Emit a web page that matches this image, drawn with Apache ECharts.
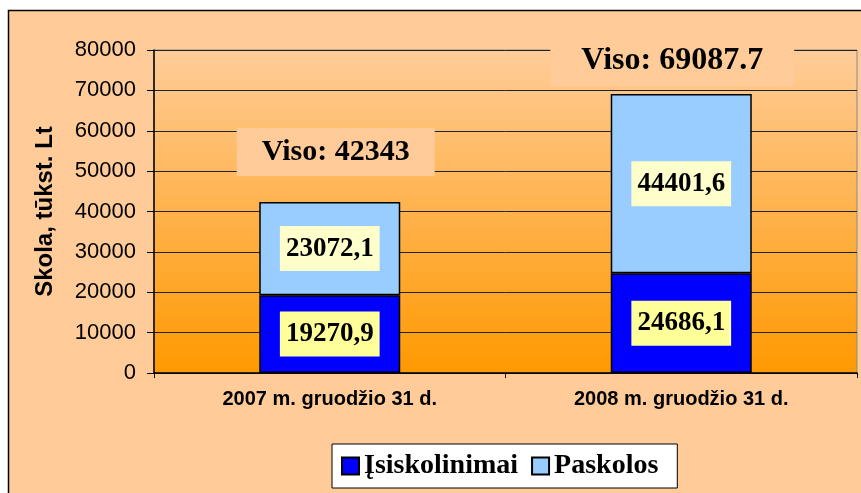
<!DOCTYPE html>
<html>
<head>
<meta charset="utf-8">
<script src="https://cdn.jsdelivr.net/npm/echarts@6/dist/echarts.min.js"></script>
<style>
  html, body { margin: 0; padding: 0; background: #ffffff; }
  #chart { width: 861px; height: 493px; }
</style>
</head>
<body>
<div id="chart"></div>
<script>
const categories = ['2007 m. gruodžio 31 d.', '2008 m. gruodžio 31 d.']
const isiskolinimai = [19270.9, 24686.1]
const paskolos = [23072.1, 44401.6]
const viso = [42343, 69087.7]
const yTicks = { min: 0, max: 80000, interval: 10000 }

const chart = echarts.init(document.getElementById('chart'), null, { renderer: 'canvas' })

const fmtComma = (v) => String(v).replace('.', ',')

const barLabel = (bg) => ({
  show: true,
  position: 'inside',
  formatter: (p) => fmtComma(p.value),
  fontFamily: 'Liberation Serif',
  fontWeight: 'bold',
  fontSize: 27,
  color: '#000',
  textBorderWidth: 0,
  backgroundColor: bg,
  padding: [10, 6, 8, 6]
})

const legendText = {
  fontFamily: 'Liberation Serif',
  fontWeight: 'bold',
  fontSize: 28,
  color: '#000'
}

// per-bar placement of the "Viso" boxes above the stacks
const visoOffsets = [[6, 0], [-9, 0]]
const visoDistances = [26, 8]
const visoSizes = [30, 32]
const visoPads = [[9, 25, 9, 25], [9, 31, 9, 31]]

const option = {
  backgroundColor: '#ffffff',
  animation: false,
  graphic: [{
    type: 'rect',
    z: -10,
    shape: { x: 8.5, y: 10.5, width: 900, height: 600 },
    style: { fill: '#FFCC99', stroke: '#000', lineWidth: 1.5 }
  }],
  grid: {
    left: 154,
    right: 4,
    top: 50,
    bottom: 120,
    show: true,
    borderColor: '#8a8a8a',
    borderWidth: 1,
    backgroundColor: new echarts.graphic.LinearGradient(0, 0, 0, 1, [
      { offset: 0, color: '#FFCC99' },
      { offset: 1, color: '#FF9900' }
    ])
  },
  legend: {
    data: [
      { name: 'Įsiskolinimai', textStyle: legendText },
      { name: 'Paskolos', textStyle: legendText }
    ],
    left: 332,
    top: 444,
    padding: [8, 19, 8, 9],
    backgroundColor: '#ffffff',
    borderColor: '#000',
    borderWidth: 1,
    itemWidth: 17,
    itemHeight: 17,
    itemGap: 13,
    icon: 'rect',
    textStyle: legendText
  },
  xAxis: {
    type: 'category',
    data: categories,
    axisLine: { lineStyle: { color: '#000', width: 1.5 } },
    axisTick: { show: true, length: 5, lineStyle: { color: '#000' } },
    axisLabel: {
      color: '#000',
      fontFamily: 'Liberation Sans',
      fontWeight: 'bold',
      fontSize: 20,
      margin: 16
    }
  },
  yAxis: {
    type: 'value',
    min: yTicks.min,
    max: yTicks.max,
    interval: yTicks.interval,
    name: 'Skola, tūkst. Lt',
    nameLocation: 'middle',
    nameGap: 97,
    nameTextStyle: {
      fontFamily: 'Liberation Sans',
      fontWeight: 'bold',
      fontSize: 24,
      color: '#000'
    },
    axisLine: { show: true, lineStyle: { color: '#000', width: 1.5 } },
    axisTick: { show: true, length: 7, lineStyle: { color: '#000' } },
    axisLabel: {
      color: '#000',
      fontFamily: 'Liberation Sans',
      fontSize: 22,
      margin: 18,
      formatter: (v) => String(v)
    },
    splitLine: { show: true, lineStyle: { color: '#222', width: 1 } }
  },
  series: [
    {
      name: 'Įsiskolinimai',
      type: 'bar',
      stack: 'skola',
      barWidth: 141,
      data: isiskolinimai,
      itemStyle: { color: '#0000FF', borderColor: '#000', borderWidth: 1.5 },
      label: barLabel('#FFFF99')
    },
    {
      name: 'Paskolos',
      type: 'bar',
      stack: 'skola',
      barWidth: 141,
      data: paskolos,
      itemStyle: { color: '#99CCFF', borderColor: '#000', borderWidth: 1.5 },
      label: barLabel('#FFFFCC')
    },
    {
      name: 'Viso',
      type: 'scatter',
      symbolSize: 0,
      z: 5,
      itemStyle: { opacity: 1 },
      data: viso.map((v, i) => ({
        value: v,
        label: {
          offset: visoOffsets[i],
          distance: visoDistances[i],
          fontSize: visoSizes[i],
          padding: visoPads[i]
        }
      })),
      label: {
        show: true,
        position: 'top',
        formatter: (p) => 'Viso: ' + p.value,
        fontFamily: 'Liberation Serif',
        fontWeight: 'bold',
        fontSize: 30,
        color: '#000',
        textBorderWidth: 0,
        backgroundColor: '#FFCC99'
      }
    }
  ]
}

chart.setOption(option)
</script>
</body>
</html>
